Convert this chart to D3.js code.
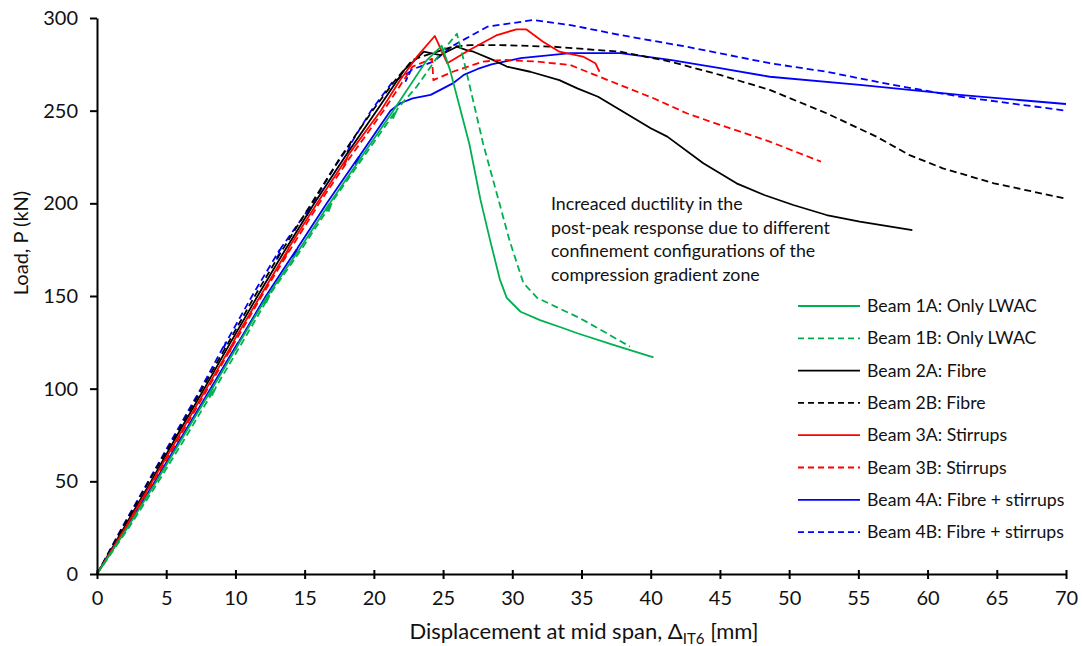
<!DOCTYPE html>
<html><head><meta charset="utf-8">
<script src="https://cdn.jsdelivr.net/npm/d3@7"></script>
<style>
body{margin:0;background:#fff;}
svg{display:block;font-family:Lato,"Open Sans",sans-serif;}
</style></head>
<body><svg id="chart" width="1082" height="646"></svg>
<script>
// ---- data (displacement mm, load kN) ----
const beam1A = [[0,0],[2.2,25],[4.3,50],[6.3,75],[8.3,100],[8.1,96],[8.4,101],[10.3,125],[12.3,150],[12.1,146],[12.4,151],[14.6,175],[16.8,200],[16.6,196],[16.9,201],[19.1,225],[21.4,250],[23.8,277],[24.9,285],[25.5,272],[26.9,232],[27.7,202],[28.4,180],[29.1,159],[29.6,149],[30.6,141.5],[32,137],[33.7,132.6],[34.7,129.9],[37.3,123.6],[40.2,116.9]];
const beam1B = [[0,0],[2.3,25],[4.45,50],[6.5,75],[8.5,100],[8.3,96],[8.6,101],[10.5,125],[12.45,150],[12.2,146],[12.5,151],[14.75,175],[16.95,200],[16.7,195],[17.0,201],[19.25,225],[21.6,250],[21.4,246],[21.7,251],[23.1,263],[24.5,278],[26.0,291.5],[26.5,277],[27.9,232],[29,202],[29.8,180],[30.8,157],[31.8,149],[33.2,144],[34.9,138],[36.8,130],[38.5,122.7]];
const beam2A = [[0,0],[1.95,25],[3.9,50],[5.8,75],[7.75,100],[9.65,125],[11.6,150],[13.6,175],[15.7,200],[17.9,225],[20.2,250],[22.2,272],[23.6,281.8],[24.8,280],[26,284.5],[26.7,282.7],[27.2,281.8],[28.6,277.4],[29.6,273.8],[31.3,271],[33.4,266.5],[34.7,262],[36.2,257.5],[37.8,250.4],[40,240.5],[41.2,236],[43.8,221.6],[46.2,210.8],[48.2,204.5],[50.3,199.1],[52.7,193.7],[55.1,190.1],[58.9,185.6]];
const beam2B = [[0,0],[1.85,25],[3.75,50],[5.7,75],[7.6,100],[9.5,125],[11.4,150],[13.4,175],[15.5,200],[17.6,225],[19.9,250],[21.5,266],[22.8,277.4],[23.8,280],[25.7,284.5],[27,285.4],[29.1,285.4],[33,284.5],[37.8,281.8],[41.4,276.5],[45,269.3],[48.6,261.2],[52.7,248.6],[56.3,236],[58.7,226],[61.1,218.9],[64.8,210.8],[67.5,206.5],[70,202.5]];
const beam3A = [[0,0],[2.05,25],[4.0,50],[5.95,75],[7.9,100],[9.85,125],[9.6,120],[9.9,126],[11.8,150],[13.8,175],[13.55,170],[13.85,176],[15.9,200],[18.1,225],[17.85,220],[18.15,226],[20.5,250],[21.9,266.5],[23.1,279],[24.4,290.3],[25.3,275.6],[26.9,282.7],[28.9,290.8],[30.3,293.9],[31,293.9],[32.2,287.3],[33.4,281.8],[35.1,279.2],[36,275.6],[36.3,271]];
const beam3B = [[0,0],[2.1,25],[4.1,50],[6.05,75],[8.0,100],[9.95,125],[11.9,150],[13.95,175],[16.05,200],[18.3,225],[20.7,250],[22.8,273.8],[24.2,278],[24.3,266.5],[25.7,271],[27.9,276.5],[29.4,277.4],[31.8,276.5],[34.2,274.6],[35.4,271],[37.8,263.8],[40.2,256.7],[42.6,248.6],[45,242.3],[48.6,233.3],[52.3,222.5]];
const beam4A = [[0,0],[2.1,25],[4.2,50],[6.2,75],[8.2,100],[10.2,125],[10.0,121],[10.3,126],[12.2,150],[14.4,175],[14.2,171],[14.5,176],[16.6,200],[18.9,225],[18.7,221],[19.0,226],[21.2,250],[21.9,254],[22.8,256.6],[24.1,258.5],[24.8,261.2],[25.7,264.7],[26.5,269.3],[27.5,272.5],[28.5,275],[30.6,278.3],[34.2,281],[37.8,281],[41.4,277.4],[45,272.9],[48.6,268.3],[55.1,263.9],[62.3,258.5],[70,253.6]];
const beam4B = [[0,0],[1.8,25],[3.7,50],[5.6,75],[7.5,100],[9.3,125],[9.1,121],[9.4,126],[11.2,150],[13.2,175],[13.0,170],[13.3,176],[15.4,198],[15.15,193],[15.5,199],[17.2,220],[18.3,232],[18.1,228],[18.4,233],[19.8,250],[21.3,265],[22.6,271],[22.3,266],[22.7,272],[24.3,276.5],[25.7,285],[28.2,295.3],[31.5,298.9],[34.2,296.2],[37.8,290.8],[42.6,284.5],[48.6,275.6],[52.7,271],[57.5,263.9],[62.3,257.6],[70,250]];

const seriesData = [beam1A, beam1B, beam2A, beam2B, beam3A, beam3B, beam4A, beam4B];
const seriesNames = ["Beam 1A: Only LWAC","Beam 1B: Only LWAC","Beam 2A: Fibre","Beam 2B: Fibre","Beam 3A: Stirrups","Beam 3B: Stirrups","Beam 4A: Fibre + stirrups","Beam 4B: Fibre + stirrups"];
const seriesColors = ["#00B050","#00B050","#000000","#000000","#FF0000","#FF0000","#0000FF","#0000FF"];
const seriesDashed = [false,true,false,true,false,true,false,true];

const xTicks = [0,5,10,15,20,25,30,35,40,45,50,55,60,65,70];
const yTicks = [0,50,100,150,200,250,300];
const annotationLines = ["Increaced ductility in the","post-peak response due to different","confinement configurations of the","compression gradient zone"];

// ---- drawing ----
const svg = d3.select("#chart");
const x = d3.scaleLinear().domain([0,70]).range([97,1066]);
const y = d3.scaleLinear().domain([0,300]).range([574,18]);

const line = d3.line().x(d=>x(d[0])).y(d=>y(d[1]));

const order = [7,6,3,2,5,4,1,0];
order.forEach(i=>{
  svg.append("path").datum(seriesData[i])
    .attr("d", line)
    .attr("fill","none")
    .attr("stroke", seriesColors[i])
    .attr("stroke-width", 1.8)
    .attr("stroke-linejoin","round")
    .attr("stroke-dasharray", seriesDashed[i] ? "7,4" : null);
});

// axes
const yAxis = svg.append("g").attr("transform",`translate(${x(0)},0)`)
  .call(d3.axisLeft(y).tickValues(yTicks).tickSize(7).tickSizeOuter(0).tickPadding(12));
const xAxis = svg.append("g").attr("transform",`translate(0,${y(0)})`)
  .call(d3.axisBottom(x).tickValues(xTicks).tickSize(5).tickSizeOuter(0).tickPadding(12));
xAxis.selectAll(".tick line").attr("y1",-4).attr("y2",5);
[xAxis,yAxis].forEach(g=>{
  g.select(".domain").attr("stroke","#000").attr("stroke-width",2);
  g.selectAll(".tick line").attr("stroke","#000").attr("stroke-width",2);
  g.selectAll(".tick text").attr("fill","#111").style("font-size","20px").style("font-family","Lato, sans-serif");
});

// axis titles
svg.append("text").attr("transform","translate(28,243) rotate(-90)")
  .attr("text-anchor","middle").style("font-size","20px").attr("fill","#111")
  .text("Load, P (kN)");
const xt = svg.append("text").attr("x",584).attr("y",639).attr("text-anchor","middle")
  .style("font-size","22px").attr("fill","#111");
xt.append("tspan").text("Displacement at mid span, Δ");
xt.append("tspan").attr("dy",5).style("font-size","15px").text("IT6");
xt.append("tspan").attr("dy",-5).text(" [mm]");

// annotation
const ann = svg.append("text").attr("fill","#111").style("font-size","17.8px");
annotationLines.forEach((t,i)=>{
  ann.append("tspan").attr("x",551).attr("y",210+i*23.5).text(t);
});

// legend
const lg = svg.append("g");
seriesNames.forEach((n,i)=>{
  const cy = 306 + i*32.3;
  lg.append("line").attr("x1",798).attr("x2",860).attr("y1",cy).attr("y2",cy)
    .attr("stroke",seriesColors[i]).attr("stroke-width",1.8)
    .attr("stroke-dasharray", seriesDashed[i] ? "6,4" : null);
  lg.append("text").attr("x",867).attr("y",cy+6).attr("fill","#111")
    .style("font-size","17.7px").text(n);
});
</script></body></html>
